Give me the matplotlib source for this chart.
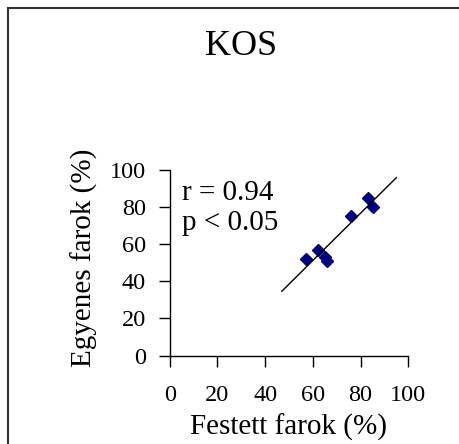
import matplotlib.pyplot as plt
import numpy as np

plt.rcParams['font.family'] = ['Liberation Serif', 'DejaVu Serif']

festett = [57, 62, 65, 66, 76, 83, 85]
egyenes = [52, 57, 53, 51, 75, 85, 80]
ticks = [0, 20, 40, 60, 80, 100]
line_x = [47, 95]

W, H = 460, 444
fig = plt.figure(figsize=(W / 100, H / 100), dpi=100)
ax = fig.add_axes([169.7 / W, 1 - 355.5 / H, (408.3 - 169.7) / W, (355.5 - 170) / H])

ax.plot(festett, egyenes, 'D', color='#000080', ms=6, mec='#000080')
slope, icpt = np.polyfit(festett, egyenes, 1)
lx = np.array(line_x)
ax.plot(lx, slope * lx + icpt, color='black', lw=1)

ax.set_xlim(0, 100)
ax.set_ylim(0, 100)
ax.set_xticks(ticks)
ax.set_yticks(ticks)
ax.tick_params(direction='out', length=8, width=1, labelsize=17.5)
ax.tick_params(axis='x', pad=13)
ax.tick_params(axis='y', pad=9)
for s in ['top', 'right']:
    ax.spines[s].set_visible(False)
for s in ['left', 'bottom']:
    ax.spines[s].set_linewidth(1)

ax.text(0.05, 0.84, 'r = 0.94', transform=ax.transAxes, fontsize=21, va='baseline')
ax.text(0.05, 0.675, 'p < 0.05', transform=ax.transAxes, fontsize=21, va='baseline')

fig.text(241.5 / W, 1 - 46 / H, 'KOS', fontsize=26, ha='center', va='center')
fig.text(289 / W, 1 - 427 / H, 'Festett farok (%)', fontsize=21, ha='center', va='center')
fig.text(84 / W, 1 - 258 / H, 'Egyenes farok (%)', fontsize=21, ha='center', va='center',
         rotation=90)

# frame around the chart (only left and top edges fall inside the image)
fig.add_artist(plt.Line2D([8 / W, 8 / W], [0, 1 - 8 / H], color='#333333', lw=1.5,
                          transform=fig.transFigure))
fig.add_artist(plt.Line2D([8 / W, 1], [1 - 8 / H, 1 - 8 / H], color='#333333', lw=1.5,
                          transform=fig.transFigure))

fig.savefig('out.png', dpi=100)
